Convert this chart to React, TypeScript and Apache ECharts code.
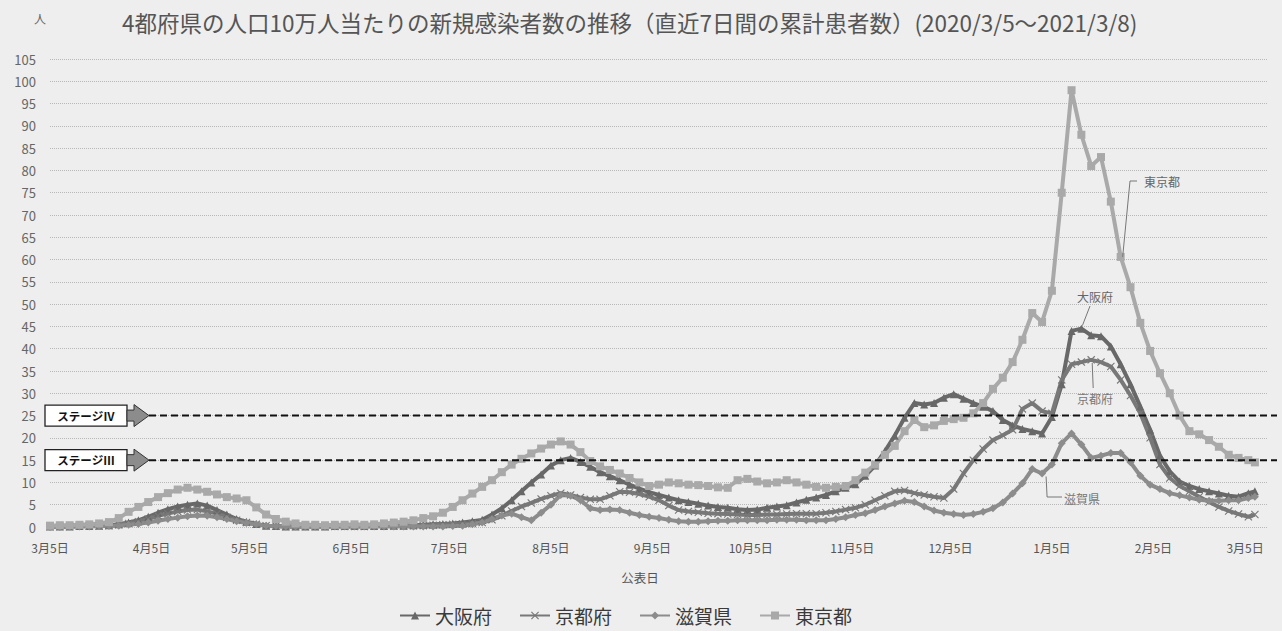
import React, { useEffect, useRef } from 'react';
import * as echarts from 'echarts';

const FONT = '"Noto Sans CJK JP", "Noto Sans", sans-serif';

// Axis: one category per day, 2020-03-05 .. 2021-03-12
const START_UTC = Date.UTC(2020, 2, 5);
const DAY_COUNT = 373;
const CATEGORIES: string[] = [];
for (let i = 0; i < DAY_COUNT; i++) {
  const dt = new Date(START_UTC + i * 86400000);
  CATEGORIES.push(`${dt.getUTCFullYear()}-${dt.getUTCMonth() + 1}-${dt.getUTCDate()}`);
}

const SAMPLE_DAYS: number[] = [];
for (let d = 0; d <= 366; d += 3) SAMPLE_DAYS.push(d);
SAMPLE_DAYS.push(368);

const TITLE = '4都府県の人口10万人当たりの新規感染者数の推移（直近7日間の累計患者数）(2020/3/5～2021/3/8)';
const SERIES_NAMES = ['大阪府', '京都府', '滋賀県', '東京都'];
const Y_UNIT = '人';
const X_NAME = '公表日';
const STAGE_LABELS = ['ステージⅣ', 'ステージⅢ'];
const STAGE_VALUES = [25, 15];

const OSAKA = [
  0.1, 0.1, 0.1, 0.2, 0.2, 0.3, 0.4, 0.6, 1.0, 1.5,
  2.3, 3.2, 4.0, 4.6, 5.0, 5.3, 4.8, 3.8, 2.8, 1.8,
  1.2, 0.7, 0.3, 0.2, 0.1, 0.1, 0.1, 0.1, 0.1, 0.2,
  0.2, 0.2, 0.2, 0.2, 0.2, 0.3, 0.3, 0.4, 0.5, 0.6,
  0.7, 0.8, 1.0, 1.3, 1.6, 2.8, 4.2, 6.0, 8.0, 10.0,
  11.8, 13.8, 15.0, 15.5, 14.6, 13.5, 12.3, 11.4, 10.5, 9.5,
  8.6, 7.8, 7.2, 6.6, 6.0, 5.6, 5.2, 4.8, 4.5, 4.3,
  4.0, 3.8, 3.9, 4.3, 4.6, 4.9, 5.5, 6.1, 6.6, 7.2,
  8.0, 8.8, 9.6, 11.5, 13.8, 17.0, 20.5, 24.5, 27.8, 27.5,
  27.8, 29.0, 29.8, 28.8, 27.8, 27.0, 26.0, 24.0, 22.8, 22.0,
  21.5, 21.0, 24.7, 32.0, 44.0, 44.5, 43.0, 42.8, 40.5, 36.5,
  32.0, 27.0, 21.8, 16.0, 12.5, 10.2, 9.2, 8.5, 8.0, 7.5,
  7.0, 6.8, 7.6, 8.0,
];

const KYOTO = [
  0.1, 0.1, 0.1, 0.2, 0.2, 0.2, 0.3, 0.5, 0.8, 1.2,
  1.8, 2.5, 3.0, 3.5, 3.8, 3.9, 3.5, 3.0, 2.2, 1.5,
  1.0, 0.6, 0.3, 0.2, 0.1, 0.1, 0.1, 0.1, 0.1, 0.1,
  0.1, 0.1, 0.1, 0.2, 0.2, 0.2, 0.2, 0.3, 0.3, 0.4,
  0.5, 0.6, 0.7, 0.8, 1.0, 1.6, 2.5, 3.6, 4.6, 5.4,
  6.3, 7.0, 7.6, 7.2, 6.6, 6.2, 6.2, 7.0, 7.9, 7.8,
  7.4, 6.8, 6.0, 4.8, 3.8, 3.5, 3.3, 3.1, 3.0, 2.9,
  2.8, 2.7, 2.7, 2.8, 2.8, 2.9, 3.0, 3.0, 3.0, 3.2,
  3.5, 3.9, 4.3, 5.0, 6.0, 7.0, 8.0, 8.2, 7.6, 7.2,
  6.8, 6.5, 8.5, 12.0, 15.0, 17.5, 19.5, 20.6, 21.8, 26.5,
  27.8, 26.0, 25.5, 33.0, 36.5, 37.0, 37.5, 37.0, 36.0, 33.0,
  29.5, 25.5, 20.0, 14.0, 11.0, 9.2, 8.0, 6.8, 5.6, 4.5,
  3.6, 2.9, 2.3, 2.8,
];

const SHIGA = [
  0.0, 0.0, 0.1, 0.1, 0.1, 0.2, 0.2, 0.3, 0.5, 0.7,
  1.0, 1.4, 1.8, 2.1, 2.4, 2.6, 2.5, 2.2, 1.8, 1.3,
  0.9, 0.6, 0.3, 0.2, 0.1, 0.1, 0.1, 0.1, 0.1, 0.1,
  0.1, 0.1, 0.1, 0.1, 0.1, 0.1, 0.1, 0.1, 0.1, 0.1,
  0.1, 0.2, 0.3, 0.6, 1.0, 1.8, 2.6, 3.0, 2.2, 1.5,
  3.2, 5.0, 7.2, 7.0, 6.0, 4.2, 3.8, 3.9, 3.8, 3.2,
  2.7, 2.3, 2.0, 1.6, 1.3, 1.2, 1.2, 1.3, 1.4, 1.4,
  1.5, 1.5, 1.5, 1.5, 1.6, 1.6, 1.6, 1.5, 1.5, 1.5,
  1.8, 2.2, 2.7, 3.1, 3.8, 4.6, 5.3, 5.9, 5.6, 4.6,
  3.7, 3.2, 2.9, 2.7, 2.9, 3.4, 4.2, 5.5, 7.5, 9.8,
  13.0, 12.0, 14.0, 18.8, 21.0, 18.5, 15.5, 16.0, 16.6, 16.6,
  14.5, 11.5, 9.5, 8.5, 7.6, 7.1, 6.6, 6.1, 5.9, 5.9,
  6.0, 6.0, 6.5, 6.8,
];

const TOKYO = [
  0.3, 0.4, 0.4, 0.5, 0.6, 0.8, 1.1, 2.0, 3.4, 4.5,
  5.6, 6.7, 7.6, 8.4, 8.8, 8.4, 7.9, 7.3, 6.7, 6.4,
  6.0, 4.4, 2.8, 1.8, 1.2, 0.8, 0.5, 0.5, 0.4, 0.5,
  0.5, 0.6, 0.5, 0.6, 0.8, 1.0, 1.2, 1.5, 2.0, 2.4,
  3.2, 4.5, 6.0, 7.5, 9.0, 10.5, 12.3, 14.0, 15.3, 16.5,
  17.6, 18.5, 19.2, 18.5, 16.8, 14.8, 13.6, 12.8, 12.0, 11.0,
  10.0, 9.2, 9.5, 10.0, 9.8, 9.5, 9.4, 9.2, 8.9, 8.8,
  10.5, 10.8, 10.2, 9.8, 10.0, 10.5, 10.0, 9.5, 9.0, 8.8,
  9.0, 9.2, 10.5, 12.2, 14.0, 16.2, 18.2, 21.5, 24.0, 22.4,
  22.8, 23.8, 24.2, 24.5, 25.5, 27.8, 31.0, 33.5, 37.0, 42.0,
  48.0, 46.0, 53.0, 75.0, 98.0, 88.0, 81.0, 83.0, 73.0, 60.6,
  53.8, 45.8, 39.5, 34.5, 30.0, 25.0, 21.5, 20.8, 19.5, 18.0,
  16.2, 15.5, 15.0, 14.5,
];

const SERIES_VALUES = [OSAKA, KYOTO, SHIGA, TOKYO];
const SERIES_COLORS = ['#686868', '#787878', '#8c8c8c', '#a9a9a9'];
const X_MARK = 'path://M1,0 L5,4 L9,0 L10,1 L6,5 L10,9 L9,10 L5,6 L1,10 L0,9 L4,5 L0,1 Z';
const SERIES_SYMBOLS = ['triangle', X_MARK, 'diamond', 'rect'];
const SERIES_SYMBOL_SIZES = [8, 8, 8, 8];

function toDaily(vals: number[]): (number | null)[] {
  const arr: (number | null)[] = new Array(DAY_COUNT).fill(null);
  SAMPLE_DAYS.forEach((d, i) => {
    arr[d] = vals[i];
  });
  return arr;
}

function valueAt(vals: number[], day: number): number {
  const i = SAMPLE_DAYS.indexOf(day);
  return vals[i];
}

export default function App() {
  const ref = useRef<HTMLDivElement>(null);

  useEffect(() => {
    if (!ref.current) return;
    const chart = echarts.init(ref.current, null, { renderer: 'svg' });

    const option: any = {
      animation: false,
      backgroundColor: '#eeeeee',
      title: {
        text: TITLE,
        left: 117,
        top: 6,
        textStyle: { fontSize: 22.5, fontWeight: 'normal', color: '#555', fontFamily: FONT },
      },
      legend: {
        data: SERIES_NAMES,
        left: 399,
        top: 606,
        padding: 0,
        itemGap: 27,
        itemWidth: 30,
        itemHeight: 10,
        textStyle: { fontSize: 19, color: '#3a3a3a', fontFamily: FONT },
      },
      grid: { left: 50, right: 14, top: 59, bottom: 104, containLabel: false, outerBoundsMode: 'none' },
      xAxis: {
        type: 'category',
        data: CATEGORIES,
        boundaryGap: false,
        axisLine: { show: false },
        axisTick: { show: false },
        splitLine: { show: false },
        axisLabel: {
          interval: (_i: number, v: string) => v.endsWith('-5'),
          formatter: (v: string) => {
            const p = v.split('-');
            return `${p[1]}月${p[2]}日`;
          },
          color: '#555',
          fontSize: 12,
          margin: 14,
          fontFamily: FONT,
        },
      },
      yAxis: {
        type: 'value',
        min: 0,
        max: 105,
        interval: 5,
        axisLine: { show: false },
        axisTick: { show: false },
        axisLabel: { color: '#666', fontSize: 13, margin: 14, fontFamily: FONT },
        splitLine: { lineStyle: { color: '#b8b8b8', type: 'dotted', width: 1 } },
      },
      series: SERIES_NAMES.map((name, i) => ({
        name,
        type: 'line',
        data: toDaily(SERIES_VALUES[i]),
        connectNulls: true,
        showSymbol: true,
        showAllSymbol: true,
        symbol: SERIES_SYMBOLS[i],
        symbolSize: SERIES_SYMBOL_SIZES[i],
        lineStyle: { width: 4, color: SERIES_COLORS[i] },
        itemStyle: { color: SERIES_COLORS[i] },
        emphasis: { disabled: true },
      })),
    };

    chart.setOption(option);

    const yPx = (v: number) => chart.convertToPixel({ yAxisIndex: 0 }, v) as number;
    const pt = (day: number, v: number) => chart.convertToPixel({ gridIndex: 0 }, [day, v]) as number[];

    const graphics: any[] = [];
    const txt = (x: number, y: number, text: string, size: number, fill: string, extra: any = {}) => ({
      type: 'text',
      x,
      y,
      z: 100,
      style: {
        text,
        fill,
        fontSize: size,
        fontFamily: FONT,
        align: 'center',
        verticalAlign: 'middle',
        textAlign: 'center',
        textVerticalAlign: 'middle',
        ...extra,
      },
    });

    graphics.push(txt(40, 18, Y_UNIT, 12, '#666'));
    graphics.push(txt(640, 577, X_NAME, 12.5, '#555'));

    STAGE_VALUES.forEach((v, i) => {
      const Y = yPx(v);
      graphics.push({
        type: 'line',
        z: 100,
        shape: { x1: 149, y1: Y, x2: 1277, y2: Y },
        style: { stroke: '#111', lineWidth: 2, lineDash: [7, 4] },
      });
      graphics.push({
        type: 'rect',
        z: 100,
        shape: { x: 45, y: Y - 10.5, width: 82, height: 21 },
        style: { fill: '#ffffff', stroke: '#222', lineWidth: 1.3 },
      });
      graphics.push(txt(86, Y, STAGE_LABELS[i], 11.5, '#111', { fontWeight: 'bold' }));
      graphics.push({
        type: 'polygon',
        z: 100,
        shape: {
          points: [
            [127, Y - 5.5], [134, Y - 5.5], [134, Y - 11], [149, Y],
            [134, Y + 11], [134, Y + 5.5], [127, Y + 5.5],
          ],
        },
        style: { fill: '#8c8c8c', stroke: '#333', lineWidth: 1 },
      });
    });

    // series annotation labels with leader lines
    const lead = (points: number[][]) => ({
      type: 'polyline',
      z: 100,
      shape: { points },
      style: { stroke: '#777', lineWidth: 1, fill: 'none' },
    });

    const tk = pt(327, valueAt(TOKYO, 327));
    graphics.push(lead([[1137, 181], [1130, 181], [tk[0] + 2, tk[1]]]));
    graphics.push(txt(1162, 181, SERIES_NAMES[3], 12, '#666'));

    const os = pt(315, valueAt(OSAKA, 315));
    graphics.push(lead([[1090, 306], [os[0] + 1, os[1] - 3]]));
    graphics.push(txt(1095, 296, SERIES_NAMES[0], 12, '#666'));

    const ky = pt(318, valueAt(KYOTO, 318));
    graphics.push(lead([[ky[0] + 1, ky[1] + 3], [ky[0] + 2, 388]]));
    graphics.push(txt(1095, 398, SERIES_NAMES[1], 12, '#777'));

    const sg = pt(303, valueAt(SHIGA, 303));
    graphics.push(lead([[sg[0] + 4, sg[1] + 3], [sg[0] + 5, 497], [1062, 497]]));
    graphics.push(txt(1082, 498, SERIES_NAMES[2], 12, '#777'));

    chart.setOption({ graphic: graphics });

    return () => chart.dispose();
  }, []);

  return (
    <div
      ref={ref}
      style={{ position: 'absolute', left: 0, top: 0, width: 1282, height: 631 }}
    />
  );
}
